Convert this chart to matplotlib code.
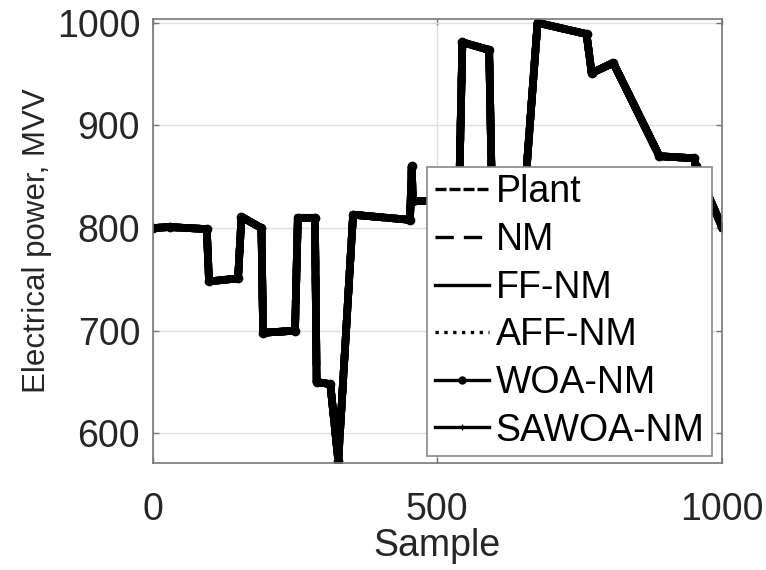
import matplotlib.pyplot as plt
from matplotlib.lines import Line2D

# breakpoints (all six series overlap)
sample = [0, 30, 95, 99, 150, 156, 191, 194, 250, 255, 285, 288, 312, 326, 352,
          452, 455, 457, 538, 544, 591, 596, 653, 676, 762, 771, 809, 890, 951, 954, 1000]
power = [800, 801, 799, 748, 751, 811, 800, 698, 700, 810, 810, 650, 648, 573, 813,
         808, 860, 826, 828, 981, 973.5, 830, 830, 1000, 989, 951, 961, 870, 868, 860, 801]

plant = power
nm = power
ff_nm = power
aff_nm = power
woa_nm = power
sawoa_nm = power

labels = ["Plant", "NM", "FF-NM", "AFF-NM", "WOA-NM", "SAWOA-NM"]

plt.rcParams['font.family'] = ['Liberation Sans', 'DejaVu Sans']
txt = '#262626'
fs = 27

fig = plt.figure(figsize=(7.66, 5.7), dpi=100)
ax = fig.add_axes([0.1993, 0.1882, 0.9426 - 0.1993, 0.966 - 0.1882])

lw = 5.5
ax.plot(sample, plant, color='k', lw=lw, dashes=(3.3, 0.9))
ax.plot(sample, nm, color='k', lw=lw, dashes=(5.5, 3))
ax.plot(sample, aff_nm, color='k', lw=lw, linestyle=':')
ax.plot(sample, ff_nm, color='k', lw=lw)
ax.plot(sample, woa_nm, color='k', lw=lw, marker='.', markersize=12)
ax.plot(sample, sawoa_nm, color='k', lw=lw, marker='+', markersize=6)

ax.set_xlim(0, 1000)
ax.set_ylim(571.4, 1003.3)
ax.set_xticks([0, 500, 1000])
ax.set_yticks([600, 700, 800, 900, 1000])
ax.grid(True, color='#dedede', lw=1)
ax.set_axisbelow(True)
ax.tick_params(direction='in', length=4, width=1, colors='#777777',
               labelcolor=txt, labelsize=fs, top=True, right=True)
ax.tick_params(axis='x', pad=21)
ax.tick_params(axis='y', pad=9)
for s in ax.spines.values():
    s.set_color('#777777')
    s.set_linewidth(1.2)

ax.set_xlabel("Sample", fontsize=fs, color=txt, labelpad=0)
ax.set_ylabel("Electrical power, MVV", fontsize=22.5, color=txt, labelpad=3)

hlw = 2.4
handles = [
    Line2D([], [], color='k', lw=hlw, dashes=(3.3, 0.9)),
    Line2D([], [], color='k', lw=hlw, dashes=(5.5, 3)),
    Line2D([], [], color='k', lw=hlw),
    Line2D([], [], color='k', lw=hlw, linestyle=':'),
    Line2D([], [], color='k', lw=hlw, marker='.', markersize=10),
    Line2D([], [], color='k', lw=hlw, marker='|', markersize=4),
]
leg = ax.legend(handles, labels, loc='lower right', bbox_to_anchor=(0.9824, 0.0151),
                fontsize=fs, frameon=True, fancybox=False, framealpha=1,
                edgecolor='#888888', handlelength=1.45, handletextpad=0.17,
                labelspacing=0.31, borderpad=0.2, borderaxespad=0)
leg.get_frame().set_linewidth(1.2)

fig.savefig("out.png", dpi=100)
